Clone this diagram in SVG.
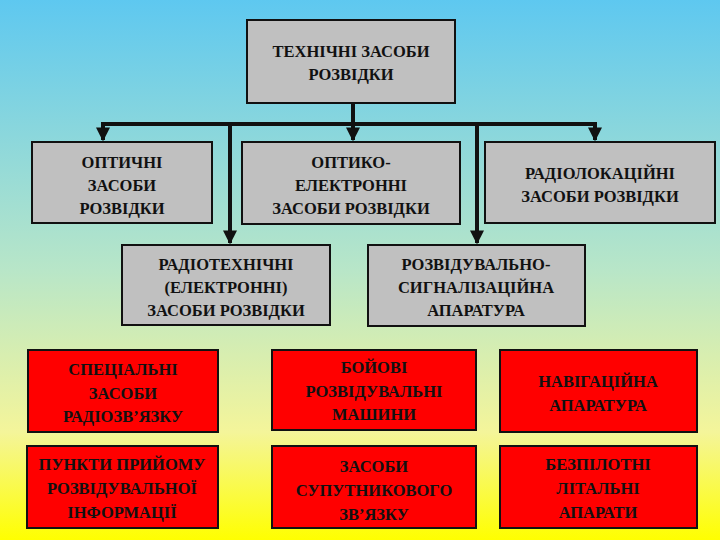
<svg xmlns="http://www.w3.org/2000/svg" width="720" height="540" viewBox="0 0 720 540">
<defs>
<linearGradient id="bg" x1="0" y1="0" x2="0" y2="1">
<stop offset="0" stop-color="#5ec8f0"/>
<stop offset="0.5" stop-color="#b8e6c8"/>
<stop offset="0.8" stop-color="#f4f59a"/>
<stop offset="1" stop-color="#ffff00"/>
</linearGradient>
<marker id="ar" viewBox="0 0 10 10" refX="9" refY="5" markerWidth="3.5" markerHeight="3.5" orient="auto"><path d="M0,0 L10,5 L0,10 z" fill="#111"/></marker>
<style>
.g{fill:#c0c0c0;stroke:#111;stroke-width:2}
.r{fill:#ff0000;stroke:#111;stroke-width:2}
text{font-family:"Liberation Serif",serif;font-weight:bold;font-size:16.5px;fill:#111;text-anchor:middle}
.c{fill:none;stroke:#111;stroke-width:4}
</style>
</defs>
<rect width="720" height="540" fill="url(#bg)"/>
<g id="connectors">
<path class="c" d="M353,103 V140" marker-end="url(#ar)"/>
<path class="c" d="M103,140 V124 H595 V140" marker-end="url(#ar)"/>
<path class="c" d="M103,124 V140" marker-end="url(#ar)"/>
<path class="c" d="M230,124 V243" marker-end="url(#ar)"/>
<path class="c" d="M477,124 V243" marker-end="url(#ar)"/>
</g>
<g id="n0"><rect class="g" x="247" y="20" width="208" height="83"/><text x="351" y="57">ТЕХНІЧНІ ЗАСОБИ</text><text x="351" y="80">РОЗВІДКИ</text></g>
<g id="n1"><rect class="g" x="32" y="142" width="180" height="81"/><text x="122" y="168">ОПТИЧНІ</text><text x="122" y="191">ЗАСОБИ</text><text x="122" y="214">РОЗВІДКИ</text></g>
<g id="n2"><rect class="g" x="242" y="142" width="218" height="82"/><text x="351" y="168">ОПТИКО-</text><text x="351" y="191">ЕЛЕКТРОННІ</text><text x="351" y="214">ЗАСОБИ РОЗВІДКИ</text></g>
<g id="n3"><rect class="g" x="485" y="142" width="230" height="81"/><text x="600" y="179">РАДІОЛОКАЦІЙНІ</text><text x="600" y="202">ЗАСОБИ РОЗВІДКИ</text></g>
<g id="n4"><rect class="g" x="122" y="245" width="208" height="80"/><text x="226" y="270">РАДІОТЕХНІЧНІ</text><text x="226" y="293">(ЕЛЕКТРОННІ)</text><text x="226" y="316">ЗАСОБИ РОЗВІДКИ</text></g>
<g id="n5"><rect class="g" x="368" y="245" width="217" height="81"/><text x="476" y="270">РОЗВІДУВАЛЬНО-</text><text x="476" y="293">СИГНАЛІЗАЦІЙНА</text><text x="476" y="316">АПАРАТУРА</text></g>
<g id="n6"><rect class="r" x="28" y="350" width="190" height="82"/><text x="123" y="375">СПЕЦІАЛЬНІ</text><text x="123" y="399">ЗАСОБИ</text><text x="123" y="422">РАДІОЗВ’ЯЗКУ</text></g>
<g id="n7"><rect class="r" x="272" y="350" width="204" height="80"/><text x="374" y="373">БОЙОВІ</text><text x="374" y="397">РОЗВІДУВАЛЬНІ</text><text x="374" y="420">МАШИНИ</text></g>
<g id="n8"><rect class="r" x="500" y="350" width="197" height="82"/><text x="598" y="387">НАВІГАЦІЙНА</text><text x="598" y="411">АПАРАТУРА</text></g>
<g id="n9"><rect class="r" x="27" y="446" width="191" height="82"/><text x="122" y="470">ПУНКТИ ПРИЙОМУ</text><text x="122" y="494">РОЗВІДУВАЛЬНОЇ</text><text x="122" y="518">ІНФОРМАЦІЇ</text></g>
<g id="n10"><rect class="r" x="272" y="446" width="204" height="82"/><text x="374" y="472">ЗАСОБИ</text><text x="374" y="496">СУПУТНИКОВОГО</text><text x="374" y="520">ЗВ’ЯЗКУ</text></g>
<g id="n11"><rect class="r" x="500" y="446" width="197" height="82"/><text x="598" y="470">БЕЗПІЛОТНІ</text><text x="598" y="494">ЛІТАЛЬНІ</text><text x="598" y="518">АПАРАТИ</text></g>
</svg>
